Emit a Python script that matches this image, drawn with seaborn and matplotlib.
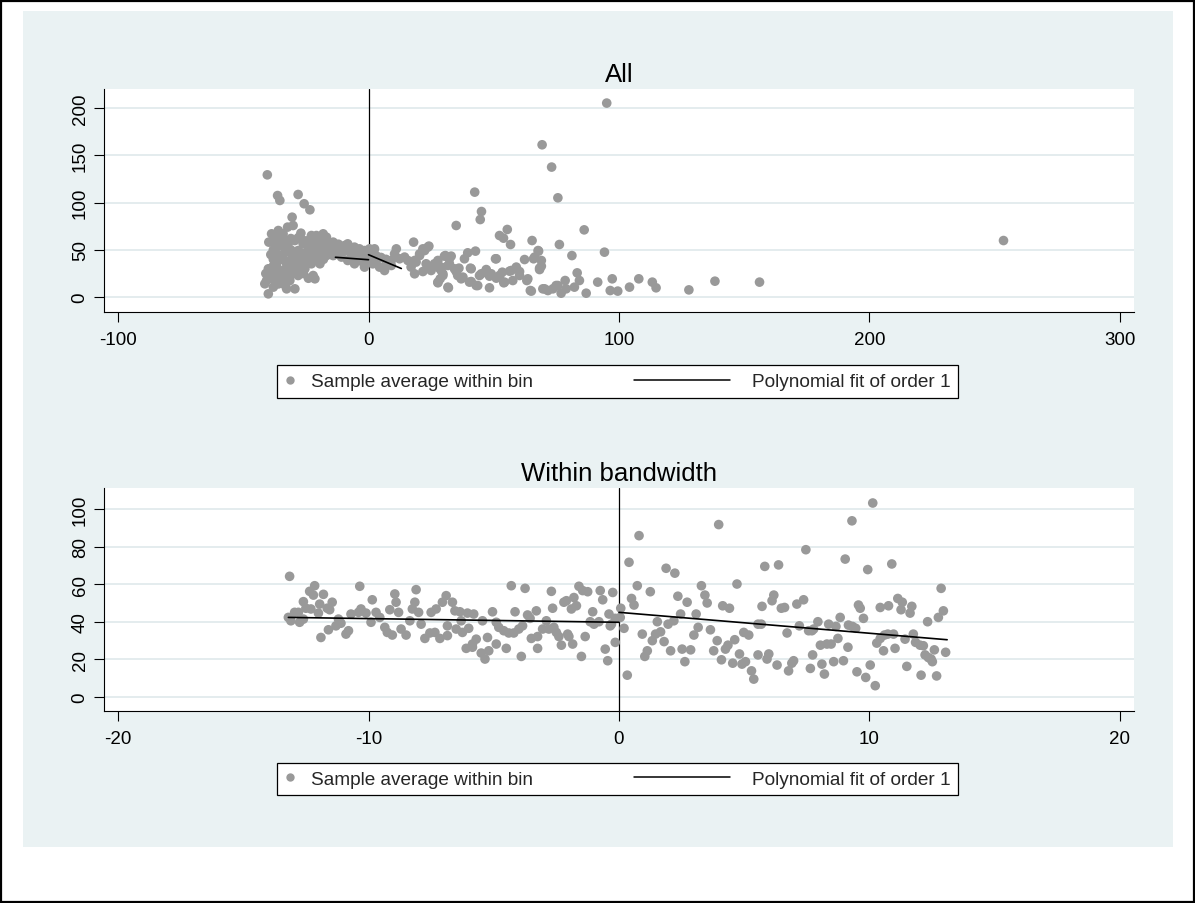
import numpy as np
import pandas as pd
import matplotlib
matplotlib.use("Agg")
import matplotlib.pyplot as plt
import seaborn as sns
from matplotlib.lines import Line2D
from matplotlib.patches import Rectangle
from matplotlib.legend_handler import HandlerBase

# ---------------- data: panel "All" ----------------
all_x = [
    95.1, 69.3, 73.1, 75.6, 42.4, 45.1, 44.6, 35.0, 86.1, 55.4, 52.3, 53.9, 56.7, 65.3, 76.2, 94.2,
    81.2, 67.9, 65.9, 62.3, 69.0, 68.3, 50.7, 42.7, 39.6, 38.3, 18.0, 24.1, 22.4, 20.4, 30.7, 33.0,
    32.3, 18.4, 23.0, 26.3, 28.3, 18.4, 21.7, 25.0, 29.7, 28.6, 27.7, 31.9, 35.0, 36.1, 37.7, 40.7,
    41.0, 43.6, 45.0, 47.0, 48.3, 48.3, 51.0, 52.3, 54.0, 53.4, 56.3, 57.6, 59.0, 60.3, 63.2, 65.0,
    69.6, 71.6, 74.9, 76.9, 78.5, 78.9, 82.2, 83.3, 84.2, 86.9, 91.5, 97.3, 96.5, 99.5, 104.2, 107.9,
    113.3, 114.8, 127.9, 138.3, 156.1, 253.5,
    -40.4, -36.3, -35.4, -28.1, -25.7, -23.4, -30.5, -30.1, -32.3, -36.0, -38.7, -39.8, -37.4, -34.1,
    -27.0, -29.4, -32.1, -35.4, -37.4, -22.8, -20.8, -18.1, -16.8, -26.1, -24.1, -28.1, -30.7, -33.4,
    -20.8, -18.8, -16.1, -14.1, -12.1, -9.5, -8.8, -14.1, -16.8, -21.4, -24.1, -26.7, -31.4, -22.8,
    -19.4, -37.4, -40.0, -38.7, -35.4, -33.4, -40.7, -37.4, -34.7, -31.4, -28.7, -28.1, -25.4, -22.1,
    -21.4, -41.4, -38.0, -32.7, -29.4, -40.0, -34.1, -36.7, -32.7, -34.1, -29.4, -10.8,
    -39.0, -38.0, -36.0, -35.0, -33.0, -31.0, -29.0, -27.0, -25.0, -23.0, -21.0, -19.0, -17.0, -15.0,
    -13.0, -11.0, -36.0, -33.0, -31.0, -28.0, -26.0, -24.0, -22.0, -20.0, -18.0, -15.0, -12.0, -10.0,
    -7.0, -5.0, -3.0, -1.0, 1.0, 3.0, 5.0, 7.0, -38.0, -36.0, -33.0, -30.0, -27.0, -24.0, -22.0,
    -20.0, -18.0, -38.0, -41.0, -39.0, -36.0, -31.0, -26.0, -24.0, -33.0, -36.0,
    -8.3, -5.6, -3.6, -1.6, 0.4, 2.4, -6.9, -4.3, -8.3, -5.6, -2.3, -0.3, 1.7, 3.7, 4.4, 7.1, 9.1,
    10.4, 11.1, 9.1, 12.4, 14.4, 15.7, 17.0, 19.0, 20.4, 21.7, 23.7, 24.4, 26.3, 27.7, 27.7, 29.0,
    6.4, -1.6,
    30.3, 32.3, 31.7, 29.0, 29.7, 34.3, 35.6, 37.0, 31.7, 41.0, 40.3, 43.0, 44.3, 47.0, 49.0, 51.0,
    52.3, 54.3, 57.0, 60.3, 63.6, 64.6, 66.3, 68.3, 69.0, 67.7, 70.3, 73.6, 75.6,
]
all_y = [
    205.3, 161.2, 137.6, 105.1, 111.1, 90.6, 82.1, 75.8, 71.2, 71.6, 65.2, 62.4, 55.7, 59.9, 55.7, 47.6,
    44.0, 48.7, 40.6, 39.8, 32.8, 29.2, 40.6, 48.7, 46.9, 40.6, 58.2, 54.0, 49.3, 44.0, 44.0, 43.4,
    35.3, 38.8, 35.3, 33.5, 30.7, 24.7, 27.1, 28.2, 24.7, 19.4, 15.2, 9.9, 27.1, 30.7, 21.2, 30.7,
    16.5, 12.3, 24.7, 29.2, 22.2, 9.9, 20.1, 21.2, 15.2, 26.4, 27.5, 17.6, 31.8, 27.1, 17.6, 6.4,
    8.8, 7.0, 12.3, 4.2, 17.6, 8.8, 10.6, 25.7, 17.6, 4.2, 15.9, 19.4, 7.0, 6.4, 10.6, 19.4,
    15.9, 9.9, 7.7, 16.9, 15.9, 59.9,
    129.4, 107.5, 102.3, 108.6, 98.8, 92.4, 84.6, 75.8, 74.1, 70.5, 67.0, 58.2, 63.5, 67.0,
    67.7, 59.9, 56.4, 54.6, 56.4, 65.2, 65.2, 67.0, 63.5, 56.4, 52.9, 49.3, 45.8, 47.6,
    52.9, 56.4, 54.6, 58.2, 52.9, 54.6, 49.3, 44.0, 44.0, 45.8, 42.4, 38.8, 38.8, 35.3,
    35.3, 37.1, 30.0, 24.7, 28.2, 24.7, 17.6, 19.4, 19.4, 17.6, 28.2, 22.9, 30.0, 22.9,
    19.4, 14.1, 10.6, 8.8, 8.8, 3.5, 14.1, 33.5, 35.3, 40.6, 35.3, 42.4,
    45.0, 50.0, 45.0, 40.0, 52.0, 50.0, 44.0, 47.0, 46.0, 48.0, 50.0, 48.0, 50.0, 52.0,
    48.0, 47.0, 60.0, 60.0, 62.0, 63.0, 60.0, 60.0, 58.0, 60.0, 60.0, 56.0, 56.0, 50.0,
    47.0, 45.0, 46.0, 44.0, 45.0, 44.0, 42.0, 40.0, 40.0, 28.0, 30.0, 30.0, 33.0, 37.0, 40.0,
    42.0, 40.0, 33.0, 25.0, 20.0, 22.0, 24.0, 25.0, 20.0, 14.0, 14.0,
    56.4, 52.9, 51.1, 49.3, 51.1, 51.1, 44.0, 42.4, 38.8, 35.3, 37.1, 38.8, 35.3, 40.6, 31.8, 35.3, 38.8,
    45.8, 51.1, 33.5, 40.6, 42.4, 38.8, 31.8, 37.1, 45.8, 51.1, 52.9, 30.0, 35.3, 38.8, 15.9, 28.2,
    28.2, 31.8,
    43.4, 40.6, 33.5, 31.8, 22.9, 30.0, 22.9, 19.4, 10.6, 30.0, 15.9, 12.3, 22.9, 28.2, 24.7, 40.6,
    22.9, 15.9, 28.2, 22.9, 19.4, 7.0, 42.4, 30.7, 38.8, 49.3, 8.8, 8.8, 12.3,
]

# ---------------- data: panel "Within bandwidth" ----------------
bw_x = [
    -13.15, -12.15, -12.35, -12.2, -11.8, -12.6, -11.95, -11.45, -11.65, -12.5, -12.3, -12.8, -12.95,
    -13.2, -13.1, -12.75, -12.6, -12.0, -11.55, -11.2, -11.1, -11.3, -10.8, -10.9, -11.6, -11.9,
    -10.7, -10.3, -10.35, -9.85, -10.4, -10.1, -9.9, -9.7, -9.55, -9.35, -9.25, -9.05, -8.95, -8.9,
    -9.15, -8.8, -8.7, -8.5, -8.1, -8.15, -8.25, -8.0, -8.35, -7.9, -7.75, -7.55, -7.35, -7.15,
    -7.5, -7.3, -7.05, -6.9, -6.85, -6.85,
    -6.65, -6.55, -6.35, -6.05, -5.8, -6.3, -6.5, -6.0, -6.25, -5.7, -5.85, -6.1, -5.85, -5.5,
    -5.35, -5.2, -5.25, -5.45, -5.05, -4.9, -4.9, -4.8, -4.6, -4.4, -4.2, -4.0, -3.85, -4.5, -4.3,
    -3.75, -4.15, -3.65, -3.55, -3.3, -3.9, -3.5, -3.25, -3.25, -3.05, -2.9, -2.8, -2.6, -2.5,
    -2.4, -2.3, -2.05, -2.0, -1.85, -2.7, -2.65, -2.2, -2.1, -1.9, -1.8, -1.7, -1.6, -1.45, -1.25,
    -1.5, -1.35, -1.05, -1.15, -1.0, -0.8, -0.75, -0.65, -0.4, -0.35, -0.55, -0.45, -0.25, -0.15,
    -0.15,
    0.07, 0.05, -0.3, 0.2, 0.33, 0.4, 0.8, 0.5, 0.6, 0.73, 1.25, 0.93, 1.13, 1.03, 1.33, 1.46,
    1.53, 1.66, 1.8, 1.88, 2.23, 2.06, 1.96, 2.19, 2.35, 2.46, 2.52, 2.63, 2.86, 2.72, 2.99, 3.08,
    3.16, 3.29, 3.43, 3.52, 3.65, 3.78, 3.92, 3.98, 4.09, 4.14, 4.41, 4.25, 4.35, 4.54, 4.62, 4.71,
    4.81, 4.91, 5.05, 4.98, 5.18, 5.29, 5.38, 5.55, 5.55, 5.68, 5.71, 5.82, 5.98, 5.91, 6.11, 6.18,
    6.31, 6.37, 6.48, 6.61, 6.71, 6.77,
    6.97, 6.9, 7.1, 7.37, 7.46, 7.2, 7.57, 7.7, 7.77, 7.94, 7.73, 7.64, 8.04, 8.1, 8.2, 8.3, 8.37,
    8.47, 8.57, 8.66, 8.74, 8.83, 8.96, 9.03, 9.16, 9.14, 9.3, 9.32, 9.45, 9.5, 9.56, 9.63, 9.76,
    9.85, 9.93, 10.03, 10.13, 10.23, 10.29, 10.43, 10.43, 10.56, 10.6, 10.76, 10.73, 10.89, 10.96,
    11.02, 11.13, 11.26, 11.31, 11.42, 11.49, 11.62, 11.69, 11.75, 11.84, 12.02, 12.06, 12.15,
    12.22, 12.32, 12.35, 12.46, 12.51, 12.59, 12.68, 12.75, 12.86, 12.95, 13.04,
]
bw_y = [
    64.1, 59.1, 56.1, 54.1, 54.5, 50.6, 49.3, 50.3, 47.1, 47.1, 46.7, 44.9, 44.9,
    42.2, 40.4, 39.6, 41.3, 44.5, 46.3, 41.3, 39.1, 37.7, 35.1, 33.3, 35.6, 31.5,
    44.0, 46.7, 58.8, 51.6, 44.9, 44.5, 39.6, 44.9, 42.2, 36.9, 34.2, 32.8, 54.7, 50.3,
    46.3, 44.9, 36.0, 32.8, 57.0, 50.3, 46.7, 44.9, 40.4, 38.6, 31.0, 33.9, 34.2, 31.0,
    44.9, 46.7, 50.3, 53.8, 37.7, 32.5,
    50.3, 45.7, 45.2, 44.5, 44.0, 40.4, 36.0, 36.4, 34.2, 30.6, 28.0, 25.7, 26.3, 23.2,
    20.0, 24.4, 31.5, 40.4, 45.2, 28.0, 39.6, 36.9, 35.1, 33.9, 33.9, 36.0, 37.7, 25.7, 59.1,
    57.7, 45.2, 43.5, 41.7, 45.7, 21.4, 31.0, 32.0, 25.7, 36.0, 40.4, 36.0, 36.9, 34.2,
    32.0, 27.4, 33.3, 32.0, 28.0, 56.1, 47.1, 50.3, 51.1, 46.7, 52.8, 48.4, 58.8, 56.5, 55.9,
    21.4, 32.0, 45.2, 39.9, 38.6, 39.9, 56.5, 51.6, 44.0, 37.7, 25.3, 19.1, 55.5, 41.7,
    28.9,
    47.1, 42.2, 38.6, 36.4, 11.4, 71.6, 85.8, 52.3, 48.8, 59.1, 55.9, 33.3, 24.4, 21.4, 29.8, 33.3,
    39.9, 34.5, 29.3, 68.4, 65.8, 24.4, 38.6, 40.4, 53.5, 44.0, 25.3, 18.6, 24.9, 50.3, 32.8, 44.0,
    36.9, 59.1, 54.1, 49.9, 35.6, 24.4, 29.8, 91.7, 19.6, 48.4, 47.1, 25.3, 27.4, 17.8, 30.3, 60.0,
    22.7, 17.3, 18.6, 34.2, 32.8, 13.7, 9.3, 22.2, 38.6, 38.6, 48.1, 69.4, 22.7, 20.0, 51.1, 54.1,
    16.8, 70.2, 47.1, 47.5, 33.9, 13.7,
    19.1, 17.8, 49.3, 51.6, 78.3, 37.7, 35.1, 35.1, 36.0, 39.9, 22.2, 15.0, 27.4, 17.3, 12.0, 28.0, 38.6,
    28.0, 18.6, 37.4, 31.0, 42.2, 19.1, 73.3, 38.1, 26.3, 93.7, 37.4, 36.4, 13.2, 48.8, 47.1, 41.7,
    10.2, 67.7, 16.8, 103.2, 5.8, 28.5, 47.5, 31.0, 24.4, 32.8, 48.4, 33.3, 70.7, 33.3,
    25.7, 52.3, 46.3, 50.3, 30.6, 16.1, 44.5, 48.1, 33.3, 28.9, 27.4, 11.4, 27.1,
    22.2, 39.9, 20.8, 20.0, 18.6, 24.9, 11.0, 42.2, 57.7, 45.7, 23.6,
]

# linear fits on each side of the cutoff (same bandwidth in both panels)
fit_left_x = [-13.2, 0.0]
fit_left_y = [42.2, 39.6]
fit_right_x = [0.0, 13.1]
fit_right_y = [44.9, 30.3]

# axes
all_xticks = [-100, 0, 100, 200, 300]
all_yticks = [0, 50, 100, 150, 200]
bw_xticks = [-20, -10, 0, 10, 20]
bw_yticks = [0, 20, 40, 60, 80, 100]
legend_labels = ["Sample average within bin", "Polynomial fit of order 1"]

# ---------------- styling ----------------
sns.set_theme(style="white")
plt.rcParams['font.family'] = ['Liberation Sans', 'DejaVu Sans']

W, H = 1195, 904
BG = '#EAF2F3'
GRID = '#E4ECEE'
DOT = '#999999'

fig = plt.figure(figsize=(W / 100, H / 100), dpi=100)
fig.patch.set_facecolor('white')
fig.patches.append(Rectangle((23 / W, (H - 848) / H), (1173 - 23) / W, (848 - 12) / H,
                             transform=fig.transFigure, facecolor=BG, edgecolor='none', zorder=-10))
fig.patches.append(Rectangle((1 / W, 1 / H), (W - 2.5) / W, (H - 2.5) / H,
                             transform=fig.transFigure, fill=False, edgecolor='black',
                             linewidth=1.6, zorder=-10))


def ax_rect(l, t, r, b):
    return [l / W, 1 - b / H, (r - l) / W, (b - t) / H]


class LongLine(HandlerBase):
    def create_artists(self, legend, orig_handle, xdescent, ydescent, width, height, fontsize, trans):
        y = height / 2 - ydescent
        ln = Line2D([-xdescent - 66, -xdescent + width * 0.41], [y, y], color='black', lw=1.1)
        ln.set_transform(trans)
        return [ln]


def panel(rect, x, y, xticks, yticks, xlim, ylim, title, legend_y):
    ax = fig.add_axes(ax_rect(*rect))
    ax.set_zorder(5)
    ax.set_facecolor('white')
    ax.set_axisbelow(True)
    ax.yaxis.grid(True, color=GRID, lw=1.4)
    ax.xaxis.grid(False)
    ax.axvline(0, color='black', lw=0.9, zorder=2)
    sns.scatterplot(x=x, y=y, ax=ax, color=DOT, s=48, edgecolor='none', linewidth=0,
                    legend=False, zorder=3)
    sns.lineplot(x=fit_left_x, y=fit_left_y, ax=ax, color='black', lw=1.2,
                 estimator=None, sort=False, legend=False, zorder=4)
    sns.lineplot(x=fit_right_x, y=fit_right_y, ax=ax, color='black', lw=1.2,
                 estimator=None, sort=False, legend=False, zorder=4)
    ax.set_xlim(*xlim)
    ax.set_ylim(*ylim)
    ax.set_xticks(xticks)
    ax.set_xticklabels([str(t) for t in xticks])
    ax.set_yticks(yticks)
    ax.set_yticklabels([str(t) for t in yticks])
    ax.tick_params(axis='both', direction='out', length=7, width=0.8, colors='black',
                   labelsize=13.5, pad=7, bottom=True, left=True)
    ax.tick_params(axis='y', labelrotation=90, pad=4)
    for lab in ax.get_yticklabels():
        lab.set_va('center')
    for s in ['top', 'right']:
        ax.spines[s].set_visible(False)
    for s in ['left', 'bottom']:
        ax.spines[s].set_color('black')
        ax.spines[s].set_linewidth(0.8)
    ax.set_xlabel('')
    ax.set_ylabel('')
    ax.set_title(title, fontsize=18.5, pad=6, color='black')

    h_pt = Line2D([], [], marker='o', linestyle='none', color=DOT, markersize=6,
                  markeredgewidth=0)
    h_ln = Line2D([], [], color='black', lw=1.1)
    leg = ax.legend([h_pt, h_ln], legend_labels, ncol=2, loc='center',
                    bbox_to_anchor=(617.5 / W, 1 - legend_y / H), bbox_transform=fig.transFigure,
                    frameon=True, fancybox=False, fontsize=13.7, handlelength=0.6,
                    handletextpad=0.8, columnspacing=10.1, borderpad=0.4,
                    handler_map={h_ln: LongLine()}, edgecolor='black', facecolor='white',
                    framealpha=1)
    leg.get_frame().set_linewidth(0.9)
    return ax


panel((104, 90, 1134, 313), all_x, all_y, all_xticks, all_yticks,
      (-105.6, 305.6), (-15.7, 220.2), "All", 382.5)
panel((104, 489, 1134, 712), bw_x, bw_y, bw_xticks, bw_yticks,
      (-20.56, 20.56), (-7.7, 111.2), "Within bandwidth", 780)

fig.savefig("out.png", dpi=100, facecolor='white')
